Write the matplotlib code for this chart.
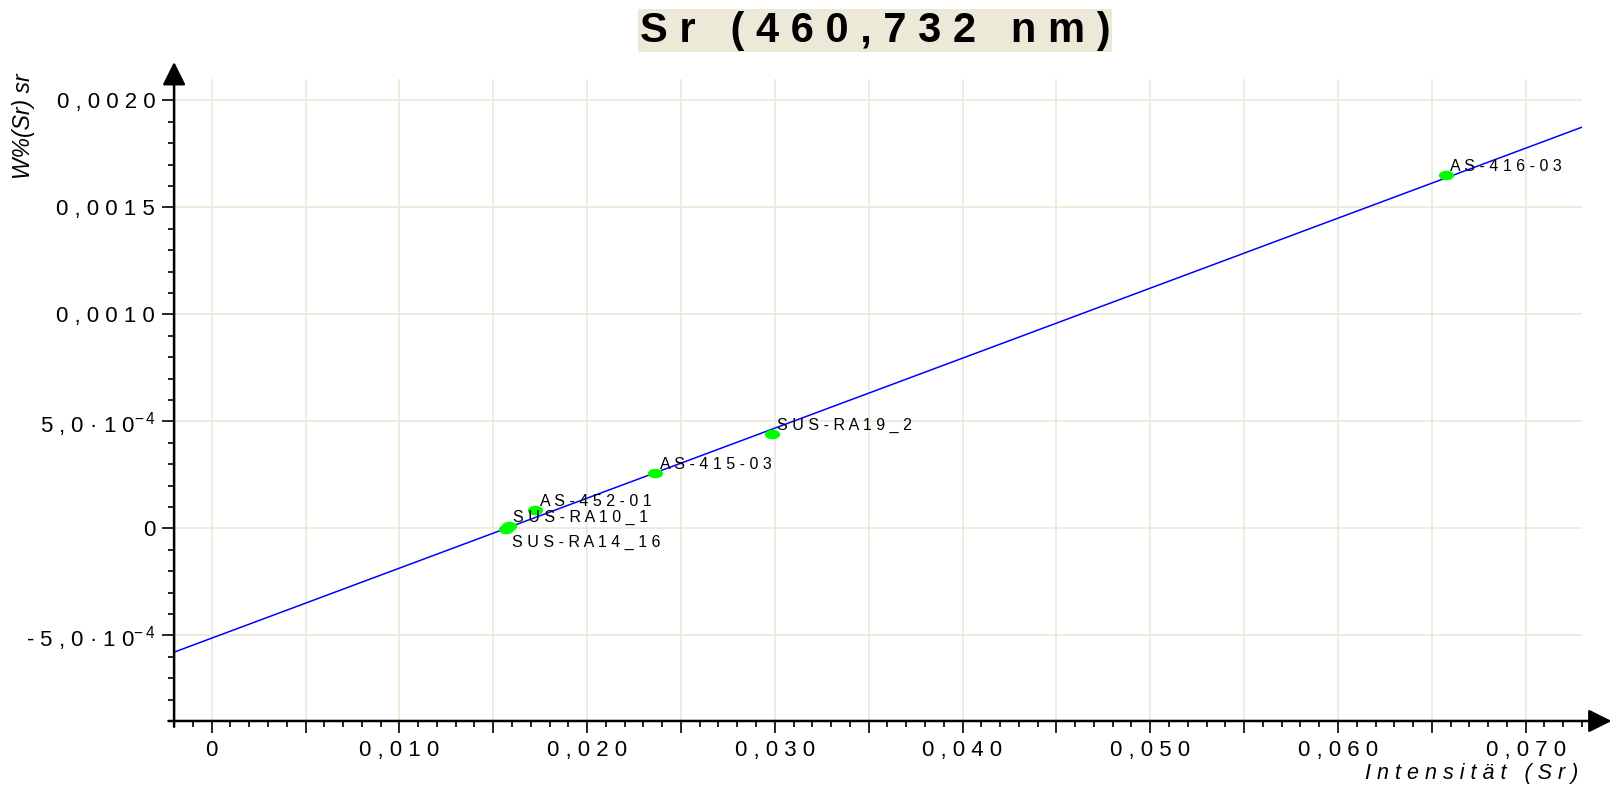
import matplotlib
matplotlib.use('Agg')
import matplotlib.pyplot as plt
import numpy as np
from matplotlib.path import Path
from matplotlib.transforms import Affine2D
from matplotlib.ticker import MultipleLocator

plt.rcParams['font.family'] = ['Liberation Sans', 'DejaVu Sans']
plt.rcParams['mathtext.fontset'] = 'custom'
plt.rcParams['mathtext.rm'] = 'Liberation Sans'
plt.rcParams['mathtext.it'] = 'Liberation Sans:italic'

# calibration samples
samples = ['AS-416-03', 'SUS-RA19_2', 'AS-415-03', 'AS-452-01', 'SUS-RA10_1', 'SUS-RA14_16']
intensity = [0.06573, 0.02987, 0.02364, 0.01725, 0.01585, 0.01570]
w_sr = [0.001651, 0.000441, 0.000260, 0.0000862, 0.000012, -0.000002]
label_below = ['SUS-RA14_16']

# regression line  w = slope * I + offset
slope = 0.03271
offset = -0.000513

x_ticks = [0, 0.005, 0.010, 0.015, 0.020, 0.025, 0.030, 0.035,
           0.040, 0.045, 0.050, 0.055, 0.060, 0.065, 0.070]
x_tick_labels = ['0', '', '0,010', '', '0,020', '', '0,030', '',
                 '0,040', '', '0,050', '', '0,060', '', '0,070']
y_ticks = [-0.0005, 0, 0.0005, 0.0010, 0.0015, 0.0020]
y_tick_labels = ['-5,0·10$^{-\\,4}$', '0', '5,0·10$^{-\\,4}$', '0,0010', '0,0015', '0,0020']

title = 'Sr (460,732 nm)'
x_title = 'Intensität (Sr)'
y_title = 'W%(Sr) sr'

GRID = '#ECE9D8'


def spread(s):
    # wide letter spacing as in the original, math parts left alone
    parts = s.split('$')
    for i in range(0, len(parts), 2):
        parts[i] = ' '.join(parts[i])
    return '$'.join(parts)


fig = plt.figure(figsize=(16.12, 7.89), dpi=100)
ax = fig.add_axes([0.108, 0.0862, 0.8734, 0.8137])
ax.set_xlim(-0.002, 0.073)
ax.set_ylim(-0.0009, 0.0021)

for s in ax.spines.values():
    s.set_visible(False)

ax.set_xticks(x_ticks)
ax.set_xticklabels([spread(t) for t in x_tick_labels])
ax.set_yticks(y_ticks)
ax.set_yticklabels([spread(t) for t in y_tick_labels])
ax.xaxis.set_minor_locator(MultipleLocator(0.001))
ax.yaxis.set_minor_locator(MultipleLocator(0.0001))
ax.tick_params(which='major', length=8.6, width=1.2, labelsize=16, pad=5)
ax.tick_params(which='minor', length=4.3, width=1.2)
ax.grid(which='major', color=GRID, lw=1.2)
ax.set_axisbelow(True)

xs = np.array(ax.get_xlim())
ax.plot(xs, slope * xs + offset, color='#0000FF', lw=1.1, zorder=3)

ellipse = Path.unit_circle().transformed(Affine2D().scale(1.6, 1.0))
ax.plot(intensity, w_sr, ls='none', marker=ellipse, ms=11, color='#00FF00',
        mec='none', zorder=4)

for name, xv, yv in zip(samples, intensity, w_sr):
    if name in label_below:
        ax.annotate(spread(name), (xv, yv), xytext=(4, -4), textcoords='offset points',
                    ha='left', va='top', fontsize=11.5, zorder=5)
    else:
        ax.annotate(spread(name), (xv, yv), xytext=(3, 3), textcoords='offset points',
                    ha='left', va='baseline', fontsize=11.5, zorder=5)

# axis lines with arrow heads
arrow = dict(arrowstyle='-|>,head_length=0.7,head_width=0.35', color='black',
             lw=1.8, shrinkA=0, shrinkB=0, mutation_scale=20)
ax.annotate('', xy=(1.021, 0), xytext=(-0.004, 0), xycoords='axes fraction',
            arrowprops=arrow, annotation_clip=False)
ax.annotate('', xy=(0, 1.0265), xytext=(0, -0.009), xycoords='axes fraction',
            arrowprops=arrow, annotation_clip=False)

fig.text(0.5428, 0.9613, spread(title), fontsize=30, fontweight='bold',
         ha='center', va='center',
         bbox=dict(facecolor=GRID, edgecolor='none', pad=1))
fig.text(0.979, 0.0127, spread(x_title), fontsize=15.5, style='italic',
         ha='right', va='baseline')
fig.text(0.0143, 1 - 73 / 789, y_title, fontsize=16.5, style='italic',
         rotation=90, ha='center', va='top')

fig.savefig('out.png', dpi=100)
